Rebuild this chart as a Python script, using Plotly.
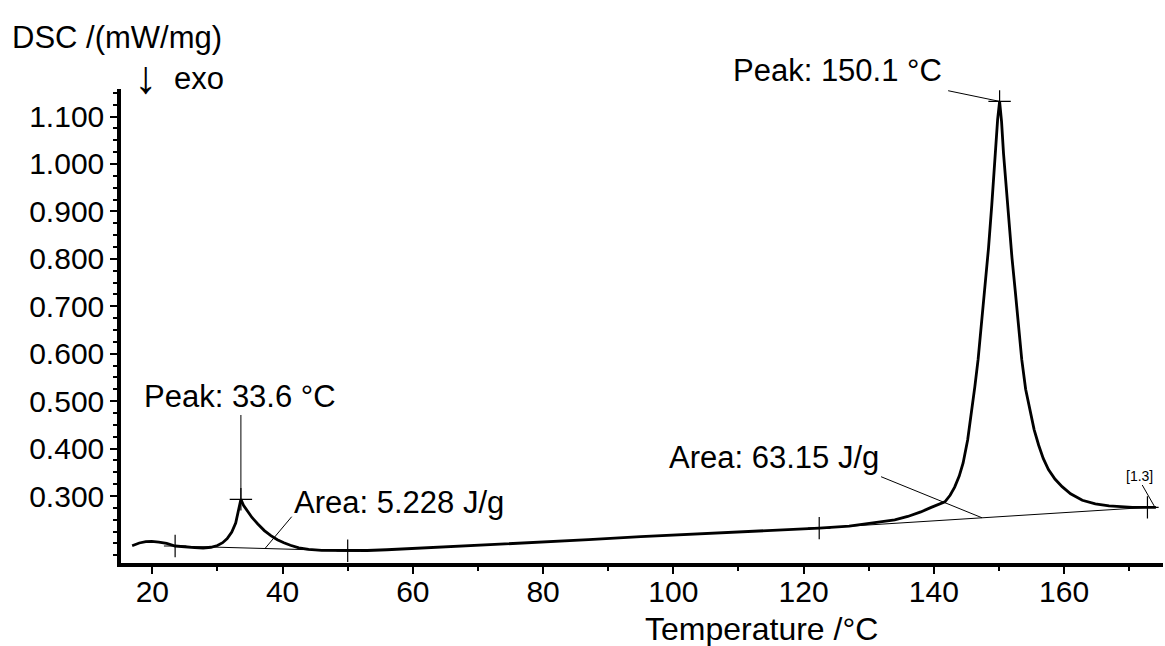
import plotly.graph_objects as go

# ---- data ----
temp = [16.9, 18.0, 19.0, 19.9, 21.0, 22.2, 23.5, 25.0, 26.5, 27.8, 29.0, 30.0, 30.8, 31.5,
        32.2, 32.8, 33.2, 33.6, 34.0, 34.6, 35.3, 36.2, 37.2, 38.2, 39.2, 40.2, 41.2, 42.5,
        44.0, 46.0, 48.0, 50.0, 53.0, 56.0, 60.0, 66.0, 72.0, 79.5, 87.0, 95.0, 102.0, 110.0,
        116.0, 122.4, 127.0, 131.0, 134.0, 136.0, 138.0, 139.6, 140.8, 141.7, 142.5, 143.2,
        143.9, 144.5, 145.2, 145.8, 146.3, 146.8, 147.3, 147.8, 148.4, 148.9, 149.4, 149.8,
        150.1, 150.4, 150.7, 151.1, 151.5, 152.0, 152.5, 153.0, 153.5, 154.1, 154.8, 155.4,
        156.1, 156.8, 157.6, 158.6, 159.7, 161.0, 162.8, 164.8, 166.9, 168.7, 170.5, 172.8, 174.1]
dsc = [0.1952, 0.2010, 0.2037, 0.2042, 0.2026, 0.2000, 0.1946, 0.1925, 0.1914, 0.1904, 0.1920,
       0.1957, 0.2016, 0.2101, 0.2239, 0.2431, 0.2654, 0.2931, 0.2803, 0.2676, 0.2548, 0.2409,
       0.2271, 0.2165, 0.2079, 0.2016, 0.1962, 0.1909, 0.1877, 0.1856, 0.1851, 0.1845, 0.1851,
       0.1867, 0.1893, 0.1936, 0.1973, 0.2026, 0.2079, 0.2143, 0.2186, 0.2239, 0.2282, 0.2324,
       0.2367, 0.2436, 0.2495, 0.2569, 0.2665, 0.2761, 0.2825, 0.2878, 0.3016, 0.3187, 0.3421,
       0.3697, 0.4187, 0.4772, 0.5305, 0.5880, 0.6582, 0.7327, 0.8232, 0.9137, 1.0223, 1.0947,
       1.1319, 1.0894, 1.0223, 0.9510, 0.8775, 0.8019, 0.7327, 0.6582, 0.5880, 0.5251, 0.4794,
       0.4400, 0.4070, 0.3793, 0.3559, 0.3357, 0.3197, 0.3048, 0.2910, 0.2835, 0.2793, 0.2771,
       0.2761, 0.2761, 0.2761]

peak_t = [33.6, 150.1]
peak_v = [0.2931, 1.1319]
peak_labels = ["Peak: 33.6 °C", "Peak: 150.1 °C"]

base1_t = [23.5, 50.0]
base1_v = [0.1946, 0.1845]
base2_t = [122.4, 172.8]
base2_v = [0.2324, 0.2761]
area_labels = ["Area: 5.228 J/g", "Area: 63.15 J/g"]

y_ticks = [0.3, 0.4, 0.5, 0.6, 0.7, 0.8, 0.9, 1.0, 1.1]
x_ticks = [20, 40, 60, 80, 100, 120, 140, 160]

FONT = "Liberation Sans, Arial, sans-serif"

fig = go.Figure()

# baselines (thin)
fig.add_trace(go.Scatter(x=base1_t, y=base1_v, mode="lines",
                         line=dict(color="black", width=1), hoverinfo="skip"))
fig.add_trace(go.Scatter(x=base2_t, y=base2_v, mode="lines",
                         line=dict(color="black", width=1), hoverinfo="skip"))
# main curve
fig.add_trace(go.Scatter(x=temp, y=dsc, mode="lines",
                         line=dict(color="black", width=2.8)))
# cross markers
mk_t = base1_t + peak_t + base2_t
mk_v = base1_v + peak_v + base2_v
fig.add_trace(go.Scatter(x=mk_t, y=mk_v, mode="markers",
                         marker=dict(symbol="cross-thin", size=16,
                                     line=dict(color="black", width=1.2))))

# leader lines
def seg(x0, y0, x1, y1):
    fig.add_shape(type="line", xref="x", yref="y", x0=x0, y0=y0, x1=x1, y1=y1,
                  line=dict(color="black", width=1))

seg(peak_t[0], 0.4708, peak_t[0], peak_v[0])
seg(142.2, 1.1544, peak_t[1], peak_v[1])
seg(41.4, 0.2564, 37.3, 0.1893)
seg(131.9, 0.3407, 147.4, 0.2541)
seg(172.0, 0.3232, 173.9, 0.2775)

ann_font = dict(family=FONT, size=31, color="black")
fig.add_annotation(x=33.5, y=0.5108, text=peak_labels[0], showarrow=False,
                   xanchor="center", yanchor="middle", font=ann_font)
fig.add_annotation(xref="paper", yref="paper", x=0.688, y=1.0386, text=peak_labels[1],
                   showarrow=False, xanchor="center", yanchor="middle", font=ann_font)
fig.add_annotation(x=41.4, y=0.2868, text=area_labels[0], showarrow=False,
                   xanchor="left", yanchor="middle", font=ann_font)
fig.add_annotation(x=131.9, y=0.3802, text=area_labels[1], showarrow=False,
                   xanchor="right", yanchor="middle", font=ann_font)
fig.add_annotation(x=171.6, y=0.3422, text="[1.3]", showarrow=False,
                   xanchor="center", yanchor="middle",
                   font=dict(family=FONT, size=14, color="black"))

# axis titles
fig.add_annotation(xref="paper", yref="paper", x=-0.1065, y=1.1097,
                   text="DSC /(mW/mg)", showarrow=False, xanchor="left",
                   yanchor="middle", font=ann_font)
fig.add_annotation(xref="paper", yref="paper", x=0.0235, y=1.025,
                   text="↓", showarrow=False, xanchor="center",
                   yanchor="middle", font=dict(family=FONT, size=46, color="black"))
fig.add_annotation(xref="paper", yref="paper", x=0.0485, y=1.023,
                   text="exo", showarrow=False, xanchor="left",
                   yanchor="middle", font=ann_font)
fig.add_annotation(xref="paper", yref="paper", x=0.615, y=-0.1392,
                   text="Temperature /°C", showarrow=False, xanchor="center",
                   yanchor="middle", font=dict(family=FONT, size=32, color="black"))

fig.update_layout(
    width=1165, height=646,
    margin=dict(l=121, r=2, t=89, b=83),
    paper_bgcolor="white", plot_bgcolor="white",
    showlegend=False,
    font=dict(family=FONT, size=30, color="black"),
)
fig.update_xaxes(
    range=[15.19, 175.19], showgrid=False, zeroline=False,
    showline=True, linecolor="black", linewidth=3.5,
    ticks="outside", ticklen=7, tickwidth=2, tickcolor="black",
    tickvals=x_ticks, tickfont=dict(family=FONT, size=30, color="black"),
    ticklabelstandoff=-8,
    minor=dict(dtick=10, tick0=0, ticks="outside", ticklen=4, tickwidth=2, tickcolor="black"),
)
fig.update_yaxes(
    range=[0.1588, 1.158], showgrid=False, zeroline=False,
    showline=True, linecolor="black", linewidth=3.5,
    ticks="outside", ticklen=7, tickwidth=2, tickcolor="black",
    tickvals=y_ticks, tickformat=".3f",
    tickfont=dict(family=FONT, size=30, color="black"),
    minor=dict(dtick=0.025, tick0=0.3, ticks="outside", ticklen=4, tickwidth=1.5, tickcolor="black"),
)

fig.write_html("out.html")
